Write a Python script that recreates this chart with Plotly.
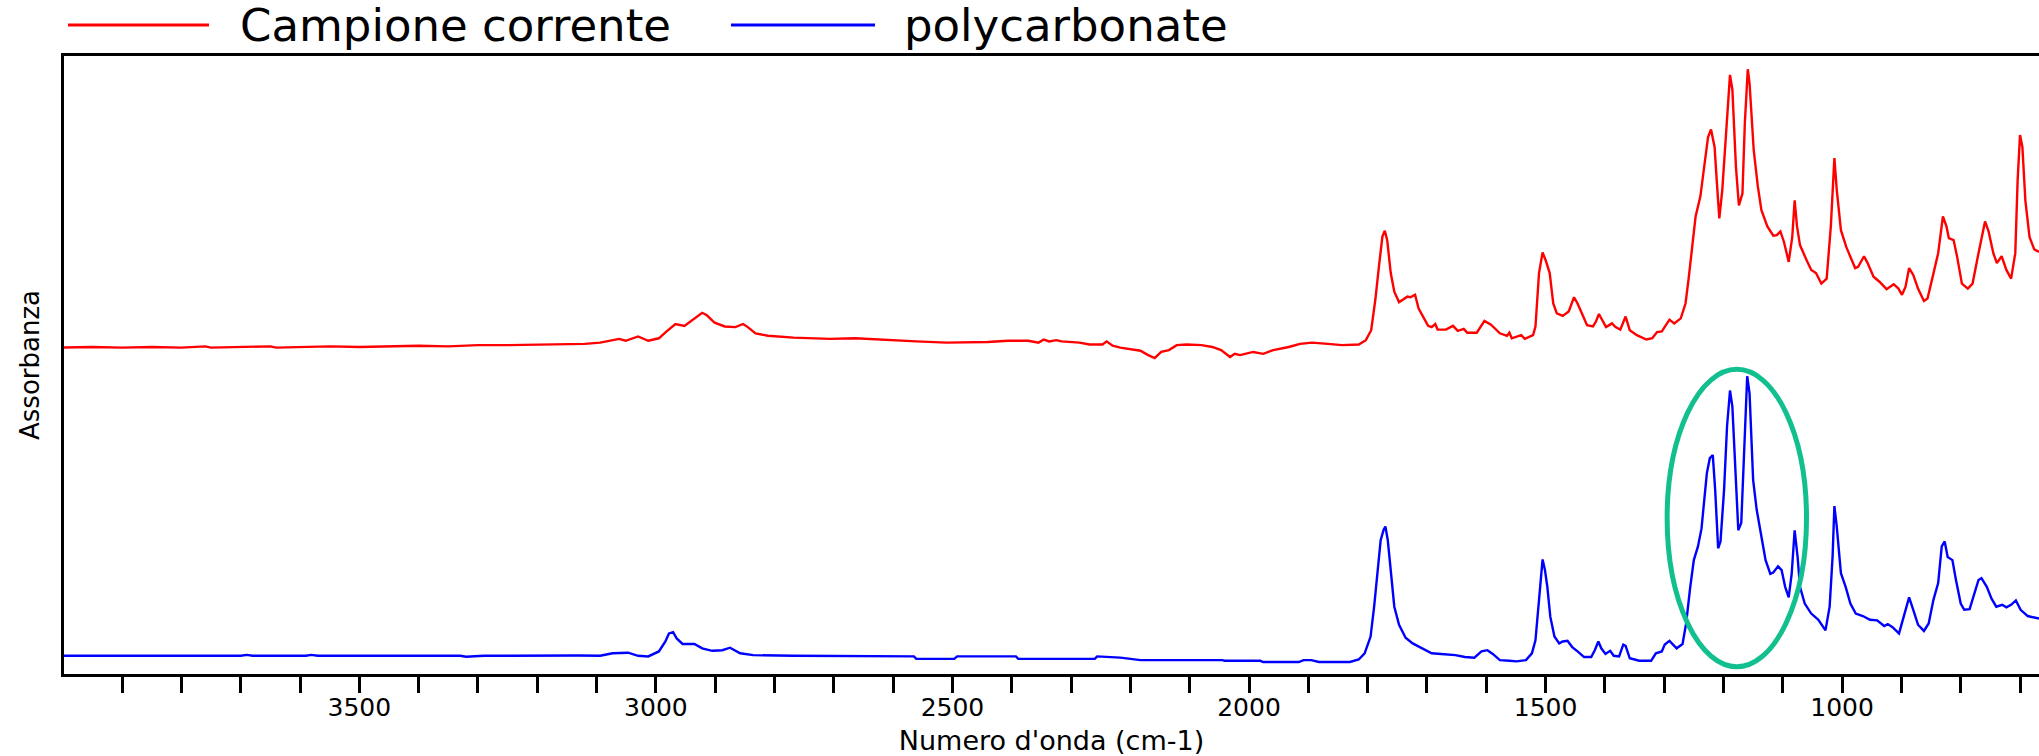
import plotly.graph_objects as go

# ---------------- data ----------------
SERIES_NAMES = ["Campione corrente", "polycarbonate"]

RED_WN = [4000, 3950, 3900, 3850, 3800, 3760, 3750, 3700, 3650, 3640, 3600, 3550, 3500, 3450,
          3400, 3350, 3300, 3250, 3200, 3150, 3120, 3094, 3077, 3062, 3051, 3030, 3013, 2995,
          2982, 2967, 2952, 2940, 2922, 2914, 2901, 2884, 2866, 2853, 2845, 2832, 2811, 2768,
          2707, 2664, 2613, 2561, 2510, 2441, 2406, 2372, 2355, 2346, 2337, 2325, 2316, 2286,
          2269, 2247, 2240, 2230, 2217, 2196, 2183, 2170, 2159, 2148, 2135, 2122, 2105, 2080,
          2062, 2047, 2032, 2024, 2015, 1993, 1976, 1959, 1933, 1914, 1894, 1867, 1843, 1815,
          1803, 1794, 1787, 1781, 1775, 1771, 1767, 1761, 1755, 1747, 1740, 1733, 1728, 1720,
          1714, 1706, 1698, 1692, 1686, 1682, 1668, 1656, 1648, 1638, 1632, 1616, 1603, 1592,
          1577, 1565, 1561, 1557, 1545, 1541, 1535, 1521, 1517, 1511, 1505, 1500, 1493, 1487,
          1481, 1471, 1461, 1452, 1446, 1438, 1430, 1420, 1415, 1410, 1404, 1398, 1388, 1382,
          1374, 1365, 1358, 1346, 1330, 1320, 1312, 1304, 1291, 1283, 1272, 1264, 1259, 1253,
          1247, 1239, 1233, 1226, 1221, 1215, 1211, 1207, 1202, 1195, 1189, 1185, 1179, 1174,
          1168, 1164, 1159, 1156, 1149, 1142, 1136, 1126, 1116, 1110, 1104, 1098, 1090, 1084,
          1080, 1076, 1071, 1060, 1052, 1044, 1035, 1026, 1019, 1013, 1009, 1002, 993, 978,
          973, 963, 957, 947, 937, 925, 913, 905, 899, 893, 887, 880, 872, 862, 856, 848, 838,
          830, 824, 820, 812, 806, 798, 788, 780, 770, 759, 753, 745, 739, 731, 723, 715, 708,
          704, 700, 696, 691, 684, 676, 668]
RED_ABS = [52.8, 52.9, 52.8, 52.9, 52.8, 53.0, 52.8, 52.9, 53.0, 52.8, 52.9, 53.0, 52.9, 53.0,
           53.1, 53.0, 53.2, 53.2, 53.3, 53.4, 53.4, 53.6, 53.9, 54.2, 53.9, 54.6, 53.9, 54.3,
           55.4, 56.6, 56.3, 57.2, 58.4, 58.0, 56.8, 56.2, 56.1, 56.6, 56.1, 55.1, 54.7, 54.4,
           54.2, 54.3, 54.0, 53.8, 53.6, 53.7, 53.9, 53.9, 53.6, 54.1, 53.8, 54.0, 53.8, 53.6,
           53.3, 53.3, 53.8, 53.1, 52.8, 52.5, 52.3, 51.6, 51.1, 52.1, 52.4, 53.2, 53.3, 53.2,
           52.9, 52.4, 51.3, 51.8, 51.6, 52.1, 51.8, 52.4, 52.9, 53.4, 53.6, 53.4, 53.2, 53.3,
           54.0, 55.6, 60.5, 65.8, 70.7, 71.6, 70.1, 64.8, 61.8, 60.1, 60.5, 61.0, 60.9, 61.3,
           59.1, 57.8, 56.3, 56.1, 56.6, 55.7, 55.7, 56.3, 55.5, 55.8, 55.2, 55.2, 57.1, 56.5,
           55.1, 54.7, 55.2, 54.3, 54.6, 54.8, 54.2, 54.8, 56.2, 64.8, 68.1, 66.9, 64.8, 59.9,
           58.3, 57.9, 58.6, 60.9, 59.9, 58.0, 56.4, 56.2, 57.0, 58.2, 57.2, 56.1, 56.7, 56.1,
           55.7, 57.8, 55.6, 54.8, 54.1, 54.3, 55.3, 55.4, 57.3, 56.7, 57.5, 59.9, 63.7, 69.0,
           73.9, 77.1, 81.9, 86.7, 87.9, 85.1, 79.2, 73.6, 78.2, 88.9, 96.7, 94.3, 81.9, 75.7,
           77.6, 88.9, 97.6, 95.3, 84.6, 78.7, 74.9, 72.3, 70.8, 70.9, 71.5, 69.8, 66.6, 70.6,
           76.5, 72.3, 69.3, 66.9, 65.3, 64.8, 63.1, 63.9, 72.3, 83.3, 78.2, 71.7, 69.0, 65.6,
           65.8, 67.5, 66.4, 64.2, 63.4, 62.2, 63.0, 62.3, 61.3, 62.6, 65.6, 64.5, 62.3, 60.3,
           60.7, 63.9, 68.0, 73.9, 72.3, 70.4, 70.1, 67.4, 63.1, 62.3, 63.1, 68.0, 73.1, 71.5,
           68.0, 66.4, 67.5, 65.3, 63.9, 68.0, 79.8, 87.0, 85.1, 76.5, 70.6, 68.6, 68.2]

BLUE_WN = [4000, 3850, 3700, 3690, 3680, 3590, 3581, 3570, 3330, 3320, 3290, 3130, 3094, 3073,
           3047, 3030, 3013, 2995, 2984, 2978, 2971, 2965, 2955, 2935, 2922, 2905, 2888, 2875,
           2858, 2836, 2768, 2565, 2561, 2497, 2492, 2393, 2389, 2260, 2256, 2217, 2183, 2045,
           2041, 1981, 1976, 1916, 1908, 1895, 1882, 1830, 1815, 1805, 1795, 1789, 1783, 1778,
           1773, 1770, 1766, 1761, 1755, 1747, 1736, 1724, 1708, 1692, 1676, 1652, 1636, 1620,
           1608, 1598, 1589, 1577, 1561, 1549, 1533, 1523, 1517, 1511, 1507, 1505, 1501, 1497,
           1492, 1485, 1477, 1471, 1463, 1455, 1446, 1435, 1423, 1417, 1411, 1406, 1399, 1391,
           1385, 1376, 1369, 1365, 1358, 1342, 1322, 1314, 1304, 1299, 1291, 1279, 1269, 1263,
           1256, 1250, 1243, 1237, 1233, 1228, 1223, 1218, 1214, 1209, 1205, 1199, 1194, 1189,
           1185, 1179, 1175, 1170, 1165, 1160, 1156, 1150, 1144, 1137, 1129, 1121, 1116, 1108,
           1102, 1096, 1090, 1085, 1080, 1075, 1071, 1063, 1052, 1040, 1032, 1028, 1021, 1016,
           1013, 1009, 1002, 994, 986, 977, 965, 953, 941, 929, 923, 915, 904, 896, 887, 880,
           872, 862, 854, 846, 838, 832, 827, 822, 814, 808, 800, 794, 785, 777, 770, 765, 756,
           748, 740, 730, 723, 715, 707, 699, 687, 668]
BLUE_ABS = [3.2, 3.2, 3.2, 3.35, 3.2, 3.2, 3.35, 3.2, 3.2, 3.05, 3.2, 3.25, 3.2, 3.6,
            3.7, 3.2, 3.1, 3.9, 5.5, 6.8, 7.0, 6.0, 5.1, 5.1, 4.4, 4.0, 4.1, 4.5,
            3.6, 3.3, 3.2, 3.1, 2.7, 2.7, 3.1, 3.1, 2.7, 2.7, 3.1, 2.9, 2.5, 2.5,
            2.4, 2.4, 2.2, 2.2, 2.5, 2.5, 2.2, 2.2, 2.6, 3.6, 6.3, 11.1, 17.0, 21.8,
            23.5, 24.0, 21.8, 16.5, 11.1, 8.2, 6.1, 5.2, 4.4, 3.6, 3.5, 3.3, 3.0, 2.9,
            3.9, 4.1, 3.5, 2.5, 2.4, 2.3, 2.5, 3.6, 5.7, 12.2, 17.5, 18.7, 17.0, 14.3,
            9.5, 6.3, 5.2, 5.5, 5.6, 4.6, 3.9, 3.0, 3.0, 4.1, 5.5, 4.4, 3.5, 4.0,
            3.2, 3.1, 5.0, 4.8, 2.8, 2.4, 2.4, 3.6, 3.9, 5.0, 5.6, 4.4, 5.1, 8.4,
            14.3, 18.6, 20.8, 23.7, 27.7, 32.6, 35.0, 35.5, 29.9, 20.5, 21.6, 29.9, 40.1, 45.9,
            43.3, 31.0, 23.4, 24.6, 35.8, 48.2, 45.4, 31.5, 26.7, 22.9, 18.6, 16.4, 16.6, 17.6,
            17.0, 14.3, 12.6, 16.4, 23.4, 19.1, 14.3, 11.6, 10.0, 9.0, 7.9, 7.3, 11.1, 19.2,
            27.3, 24.0, 16.5, 14.3, 11.6, 10.0, 9.6, 9.0, 8.9, 8.0, 8.3, 7.8, 6.8, 9.5, 12.6, 10.6,
            8.2, 7.2, 8.4, 12.2, 14.9, 20.8, 21.6, 19.1, 18.6, 15.4, 11.6, 10.6, 10.7, 13.2, 15.4, 15.7, 14.3,
            12.4, 11.1, 11.4, 11.0, 11.4, 12.1, 10.6, 9.6, 9.2]

TICK_VALUES = [3500, 3000, 2500, 2000, 1500, 1000]
TICK_LABELS = ["3500", "3000", "2500", "2000", "1500", "1000"]
X_TITLE = "Numero d'onda (cm-1)"
Y_TITLE = "Assorbanza"

# ---------------- styling ----------------
W, H = 2039, 756
ML, MR, MT, MB = 64, 0, 56, 82
PW = W - ML - MR
PH = H - MT - MB
FONT = "DejaVu Sans"
RED = "#FF0000"
BLUE = "#0000FF"
GREEN = "#12BF8E"


def px_x(p):
    return (p - ML) / PW


def px_y(p):
    return 1 - (p - MT) / PH


fig = go.Figure()
fig.add_trace(go.Scatter(x=RED_WN, y=RED_ABS, mode="lines", name=SERIES_NAMES[0],
                         line=dict(color=RED, width=2.4)))
fig.add_trace(go.Scatter(x=BLUE_WN, y=BLUE_ABS, mode="lines", name=SERIES_NAMES[1],
                         line=dict(color=BLUE, width=2.4)))

# highlight ellipse around the 1300-1060 cm-1 band of the reference spectrum
fig.add_shape(type="circle", xref="x", yref="y", x0=1295, x1=1060, y0=1.45, y1=49.3,
              line=dict(color=GREEN, width=5), layer="above")

# custom legend (long line samples as in the reference)
legend_y = px_y(25)
for (x0, x1, tx), name, col in zip([(68, 209, 238), (731, 875, 902)], SERIES_NAMES, [RED, BLUE]):
    fig.add_shape(type="line", xref="paper", yref="paper", x0=px_x(x0), x1=px_x(x1),
                  y0=legend_y, y1=legend_y, line=dict(color=col, width=3))
    fig.add_annotation(xref="paper", yref="paper", x=px_x(tx), y=legend_y, text=name,
                       showarrow=False, xanchor="left", yanchor="middle",
                       font=dict(family=FONT, size=45, color="black"))

fig.update_layout(
    width=W, height=H,
    margin=dict(l=ML, r=MR, t=MT, b=MB),
    plot_bgcolor="white", paper_bgcolor="white",
    showlegend=False,
    font=dict(family=FONT, color="black"),
)
fig.update_xaxes(
    range=[3998, 668],
    tickmode="array", tickvals=TICK_VALUES, ticktext=TICK_LABELS,
    ticks="outside", ticklen=16, tickwidth=3, tickcolor="black",
    minor=dict(tickmode="linear", tick0=0, dtick=100, ticks="outside", ticklen=16,
               tickwidth=3, tickcolor="black", showgrid=False),
    showline=True, linewidth=3, linecolor="black", mirror=True,
    showgrid=False, zeroline=False,
    ticklabelstandoff=-7,
    tickfont=dict(family=FONT, size=25, color="black"),
    title=dict(text=X_TITLE, font=dict(family=FONT, size=27, color="black"), standoff=14),
)
fig.update_yaxes(
    range=[0.27, 99.73],
    showticklabels=False, ticks="",
    showline=True, linewidth=3, linecolor="black",
    showgrid=False, zeroline=False,
    title=dict(text=Y_TITLE, font=dict(family=FONT, size=26, color="black"), standoff=14),
)

fig.write_html("out.html",
               config={"displayModeBar": False},
               post_script="document.body.style.margin='0';document.body.style.overflow='hidden';")
